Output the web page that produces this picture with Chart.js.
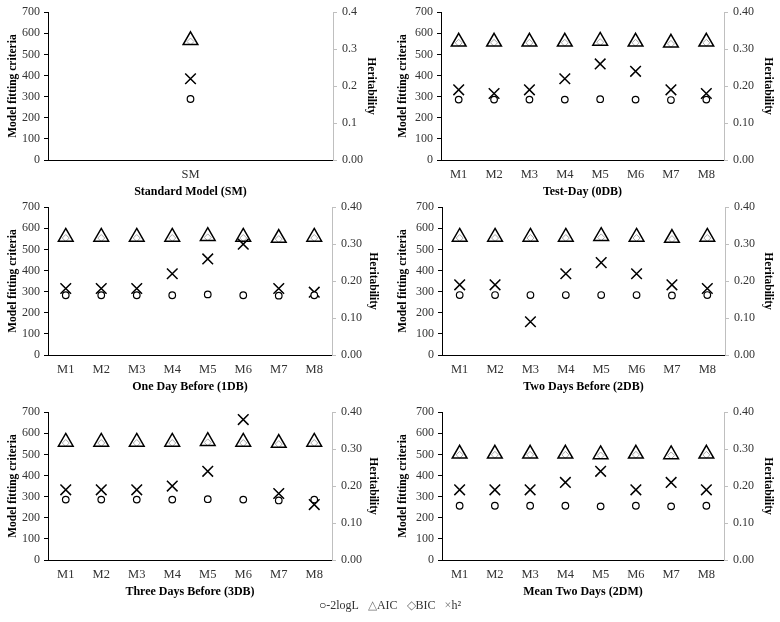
<!DOCTYPE html>
<html>
<head>
<meta charset="utf-8">
<script src="https://cdn.jsdelivr.net/npm/chart.js@4/dist/chart.umd.min.js"></script>
<style>
  html, body { margin: 0; padding: 0; background: #fff; }
  #wrap { position: relative; width: 780px; height: 622px; overflow: hidden; }
  canvas { position: absolute; }
  #legend { position: absolute; left: 0; top: 598px; width: 780px; text-align: center;
    font-family: 'Liberation Serif', 'Times New Roman', serif; font-size: 12px; color: #333; }
  #legend span.s { color: #777; }
  #legend span.c { color: #000; font-weight: bold; }
</style>
</head>
<body>
<div id="wrap">
  <canvas id="c1" width="390" height="200" style="left:0;top:0"></canvas>
  <canvas id="c2" width="390" height="200" style="left:390px;top:0"></canvas>
  <canvas id="c3" width="390" height="200" style="left:0;top:195px"></canvas>
  <canvas id="c4" width="390" height="200" style="left:390px;top:195px"></canvas>
  <canvas id="c5" width="390" height="200" style="left:0;top:400px"></canvas>
  <canvas id="c6" width="390" height="200" style="left:390px;top:400px"></canvas>
  <div id="legend"><span class="c">○</span>-2logL&nbsp;&nbsp; <span class="s">△</span>AIC&nbsp;&nbsp; <span class="s">◇</span>BIC&nbsp;&nbsp; <span class="s">×</span>h²</div>
</div>
<script>
// ---- data ----
const catsSM = ['SM'];
const catsM = ['M1', 'M2', 'M3', 'M4', 'M5', 'M6', 'M7', 'M8'];

const smLogL = [289];
const smAIC = [567];
const smBIC = [561];
const smH2 = [0.22];

const d0LogL = [286, 286, 286, 286, 288, 286, 284, 286];
const d0AIC = [560, 560, 560, 560, 564, 560, 555, 560];
const d0BIC = [555, 555, 555, 555, 558, 555, 550, 555];
const d0H2 = [0.19, 0.18, 0.19, 0.22, 0.26, 0.24, 0.19, 0.18];

const d1LogL = [283, 283, 283, 283, 287, 283, 281, 283];
const d1AIC = [559, 559, 559, 559, 563, 559, 554, 559];
const d1BIC = [554, 554, 554, 554, 557, 554, 549, 554];
const d1H2 = [0.18, 0.18, 0.18, 0.22, 0.26, 0.30, 0.18, 0.17];

const d2LogL = [284, 284, 284, 284, 284, 284, 282, 284];
const d2AIC = [559, 559, 559, 559, 563, 559, 554, 559];
const d2BIC = [554, 554, 554, 554, 557, 554, 549, 554];
const d2H2 = [0.19, 0.19, 0.09, 0.22, 0.25, 0.22, 0.19, 0.18];

const d3LogL = [286, 286, 286, 286, 288, 286, 282, 286];
const d3AIC = [559, 559, 559, 559, 563, 559, 554, 559];
const d3BIC = [554, 554, 554, 554, 557, 554, 549, 554];
const d3H2 = [0.19, 0.19, 0.19, 0.20, 0.24, 0.38, 0.18, 0.15];

const mLogL = [257, 257, 257, 257, 254, 257, 254, 257];
const mAIC = [503, 503, 503, 503, 500, 503, 500, 503];
const mBIC = [498, 498, 498, 498, 495, 498, 495, 498];
const mH2 = [0.19, 0.19, 0.19, 0.21, 0.24, 0.19, 0.21, 0.19];

const leftTitle = 'Model fitting criteria';
const rightTitle = 'Heritability';
const panelTitles = ['Standard Model (SM)', 'Test-Day (0DB)', 'One Day Before (1DB)',
  'Two Days Before (2DB)', 'Three Days Before (3DB)', 'Mean Two Days (2DM)'];

// ---- drawing ----
const FONT = "'Liberation Serif', 'Times New Roman', serif";

function makePanel(id, cats, logL, aic, bic, h2, title, lay) {
  new Chart(document.getElementById(id), {
    type: 'line',
    data: {
      labels: cats,
      datasets: [
        { label: '-2logL', data: logL, yAxisID: 'y', showLine: false,
          pointStyle: 'circle', pointRadius: 3.3, pointBorderWidth: 1.2,
          pointBorderColor: '#000', pointBackgroundColor: '#fff' },
        { label: 'h²', data: h2, yAxisID: 'y1', showLine: false,
          pointStyle: 'crossRot', pointRadius: 7.5, pointBorderWidth: 1.5,
          pointBorderColor: '#000', pointBackgroundColor: '#000' },
        { label: 'AIC', data: aic, yAxisID: 'y', showLine: false,
          pointStyle: 'triangle', pointRadius: 8.5, pointBorderWidth: 1.5,
          pointBorderColor: '#000', pointBackgroundColor: 'rgba(0,0,0,0)' },
        { label: 'BIC', data: bic, yAxisID: 'y', showLine: false,
          pointStyle: 'rectRot', pointRadius: 3.5, pointBorderWidth: 1,
          pointBorderColor: '#aaa', pointBackgroundColor: 'rgba(0,0,0,0)' }
      ]
    },
    options: {
      responsive: false, animation: false, devicePixelRatio: 1,
      layout: { padding: { top: lay.top, left: 0, right: 0, bottom: 0 } },
      plugins: { legend: { display: false }, tooltip: { enabled: false } },
      scales: {
        x: {
          offset: true,
          grid: { display: false, drawTicks: false },
          border: { display: true, color: '#000', width: 1 },
          ticks: { color: '#333', font: { family: FONT, size: 12.5 }, padding: 7, maxRotation: 0 },
          title: { display: true, text: title, color: '#000',
            font: { family: FONT, size: 12, weight: 'bold' }, padding: { top: 0, bottom: 1 } },
          afterFit: s => { s.height = 40; }
        },
        y: {
          position: 'left', min: 0, max: 700,
          grid: { drawOnChartArea: false, drawTicks: true, tickLength: 4, color: '#000' },
          border: { display: true, color: '#000', width: 1 },
          ticks: { stepSize: 100, color: '#333', font: { family: FONT, size: 12 }, padding: 4 },
          title: { display: true, text: leftTitle, color: '#000',
            font: { family: FONT, size: 11.5, weight: 'bold' }, padding: { top: 6, bottom: 0 } },
          afterFit: s => { s.width = lay.lw; }
        },
        y1: {
          position: 'right', min: 0, max: 0.4,
          grid: { drawOnChartArea: false, drawTicks: true, tickLength: 4, color: '#bfbfbf' },
          border: { display: true, color: '#bfbfbf', width: 1 },
          ticks: { stepSize: 0.1, color: '#333', font: { family: FONT, size: 12 }, padding: 5,
            callback: v => v === 0 ? (lay.dec ? '0.00' : '0') : v.toFixed(lay.dec) },
          title: { display: true, text: rightTitle, color: '#000',
            font: { family: FONT, size: 11.5, weight: 'bold' }, padding: { top: lay.rt, bottom: 0 } },
          afterFit: s => { s.width = lay.rw; }
        }
      }
    }
  });
}

makePanel('c1', catsSM, smLogL, smAIC, smBIC, smH2, panelTitles[0], { top: 10.5, lw: 48, rw: 57, dec: 1, rt: 12 });
makePanel('c2', catsM, d0LogL, d0AIC, d0BIC, d0H2, panelTitles[1], { top: 10.5, lw: 51, rw: 56, dec: 2, rt: 5 });
makePanel('c3', catsM, d1LogL, d1AIC, d1BIC, d1H2, panelTitles[2], { top: 10, lw: 48, rw: 58, dec: 2, rt: 10 });
makePanel('c4', catsM, d2LogL, d2AIC, d2BIC, d2H2, panelTitles[3], { top: 10, lw: 52, rw: 55, dec: 2, rt: 5 });
makePanel('c5', catsM, d3LogL, d3AIC, d3BIC, d3H2, panelTitles[4], { top: 9, lw: 48, rw: 58, dec: 2, rt: 10 });
makePanel('c6', catsM, mLogL, mAIC, mBIC, mH2, panelTitles[5], { top: 9, lw: 52, rw: 56, dec: 2, rt: 5 });
</script>
</body>
</html>
